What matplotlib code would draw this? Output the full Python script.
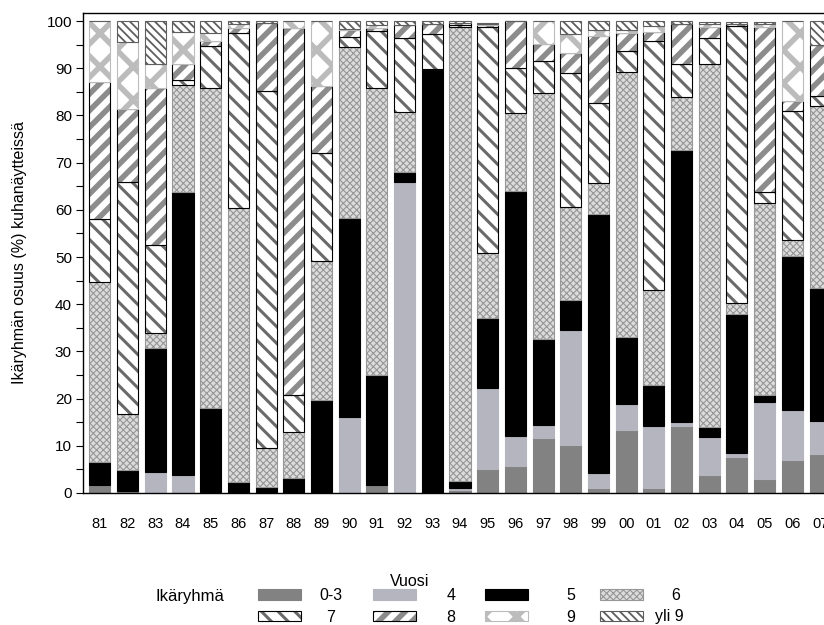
import matplotlib
matplotlib.use("Agg")
import matplotlib.pyplot as plt
from matplotlib.patches import Rectangle
import numpy as np

plt.rcParams['font.family'] = ['Liberation Sans', 'DejaVu Sans']
plt.rcParams['hatch.linewidth'] = 1.6

# vuodet ja ikäryhmien osuudet (%) kuvasta luettuna
vuodet = ['81', '82', '83', '84', '85', '86', '87', '88', '89', '90', '91', '92', '93',
          '94', '95', '96', '97', '98', '99', '00', '01', '02', '03', '04', '05', '06', '07']
ika_0_3 = [1.7, 0.5, 0.0, 0.3, 0.2, 0.0, 0.3, 0.0, 0.3, 0.0, 1.7, 0.0, 0.0,
           0.7, 5.0, 5.8, 11.7, 10.2, 1.0, 13.3, 1.1, 14.2, 3.8, 7.6, 3.0, 7.0, 8.2]
ika_4 = [0.0, 0.0, 4.5, 3.6, 0.0, 0.0, 0.0, 0.0, 0.0, 16.2, 0.0, 65.8, 0.0,
         0.3, 17.3, 6.3, 2.8, 24.3, 3.2, 5.5, 13.1, 0.8, 8.1, 0.8, 16.2, 10.6, 7.1]
ika_5 = [4.9, 4.4, 26.3, 59.8, 17.9, 2.4, 0.9, 3.2, 19.3, 42.0, 23.2, 2.3, 89.8,
         1.5, 14.7, 51.9, 18.1, 6.4, 54.9, 14.3, 8.7, 57.7, 2.0, 29.5, 1.6, 32.7, 28.1]
ika_6 = [38.2, 11.8, 3.2, 22.7, 67.8, 57.9, 8.4, 9.7, 29.6, 36.2, 61.0, 12.7, 0.0,
         96.3, 13.9, 16.6, 52.2, 19.6, 6.5, 56.0, 20.1, 11.3, 77.1, 2.3, 40.7, 3.4, 38.6]
ika_7 = [13.2, 49.1, 18.5, 1.0, 8.9, 37.2, 75.6, 7.9, 22.8, 2.3, 11.9, 15.7, 7.4,
         0.4, 47.9, 9.4, 6.7, 28.4, 17.0, 4.6, 52.8, 7.0, 5.5, 58.7, 2.3, 27.3, 2.1]
ika_8 = [29.1, 15.6, 33.4, 3.4, 1.0, 1.0, 14.3, 77.7, 14.2, 1.3, 0.8, 2.7, 2.2,
         0.3, 0.3, 10.0, 3.6, 4.4, 14.2, 3.8, 1.9, 8.4, 2.3, 0.5, 34.9, 2.1, 10.8]
ika_9 = [12.9, 14.1, 4.9, 6.9, 1.6, 0.8, 0.0, 1.5, 13.8, 0.3, 0.6, 0.0, 0.0,
         0.0, 0.2, 0.0, 4.9, 3.9, 1.2, 0.5, 1.2, 0.0, 0.5, 0.0, 0.6, 16.9, 0.0]
ika_yli9 = [0.0, 4.5, 9.2, 2.3, 2.6, 0.7, 0.5, 0.0, 0.0, 1.7, 0.8, 0.8, 0.6,
            0.5, 0.3, 0.0, 0.0, 2.8, 2.0, 2.0, 1.1, 0.6, 0.4, 0.4, 0.4, 0.0, 5.1]

ryhmat = ['0-3', '4', '5', '6', '7', '8', '9', 'yli 9']
sarjat = [ika_0_3, ika_4, ika_5, ika_6, ika_7, ika_8, ika_9, ika_yli9]

# tyylit: (täyttöväri, kuviointi, kuvioinnin väri, reunaviiva, kuvioviivan paksuus)
tyylit = [
    ('#828282', None, '#828282', '#828282', 1.0),
    ('#b5b5bf', None, '#b5b5bf', '#b5b5bf', 1.0),
    ('#000000', None, '#000000', '#000000', 1.0),
    ('#dcdcdc', 'xxxxx', '#979797', '#979797', 0.8),
    ('#ffffff', '\\\\', '#6a6a6a', '#000000', 2.2),
    ('#ffffff', '//', '#8c8c8c', '#000000', 4.0),
    ('#ffffff', 'x', '#bcbcbc', '#bcbcbc', 4.0),
    ('#ffffff', '\\\\\\\\', '#5e5e5e', '#5e5e5e', 1.3),
]


def kuviopaksuus(patch, lw):
    if hasattr(patch, 'set_hatch_linewidth'):
        patch.set_hatch_linewidth(lw)
    else:
        patch._hatch_linewidth = lw


fig = plt.figure(figsize=(8.24, 6.25), dpi=100)
W, H = 824, 625
ax = fig.add_axes([83 / W, 1 - 493 / H, 762 / W, 480 / H])

x = np.arange(len(vuodet))
leveys = 0.76
pohja = np.zeros(len(vuodet))
for arvot, (fc, hatch, hc, ec, hlw) in zip(sarjat, tyylit):
    arvot = np.array(arvot)
    palkit = ax.bar(x, arvot, leveys, bottom=pohja, color=fc, edgecolor=hc,
                    hatch=hatch, linewidth=0)
    for p in palkit:
        kuviopaksuus(p, hlw)
    ax.bar(x, arvot, leveys, bottom=pohja, fill=False, edgecolor=ec,
           linewidth=0.8)
    pohja = pohja + arvot

ax.set_xlim(-0.61, 26.9)
ax.set_ylim(0, 101.7)
ax.set_xticks(x)
ax.set_xticklabels(vuodet, fontsize=10.5)
ax.tick_params(axis='x', length=0, pad=17)
ax.set_yticks(np.arange(0, 101, 10))
ax.set_yticks(np.arange(5, 100, 10), minor=True)
ax.tick_params(axis='y', which='both', length=5, width=0.8, labelsize=11, pad=3)
for s in ax.spines.values():
    s.set_linewidth(1.0)

fig.text(20 / W, 1 - 253 / H, 'Ikäryhmän osuus (%) kuhanäytteissä', rotation=90,
         ha='center', va='center', fontsize=11.5)
fig.text(410 / W, 1 - 581 / H, 'Vuosi', ha='center', va='center', fontsize=11.5)

# selite
fig.text(190 / W, 1 - 596 / H, 'Ikäryhmä', ha='center', va='center', fontsize=12)
patch_x = [258, 373, 485, 600]
label_x = [331, 451, 571, 676]
for i, (nimi, (fc, hatch, hc, ec, hlw)) in enumerate(zip(ryhmat, tyylit)):
    rivi, sarake = divmod(i, 4)
    yc = 594 if rivi == 0 else 616
    h = 11 if rivi == 0 else 10
    px = patch_x[sarake]
    r = Rectangle((px / W, 1 - (yc + h / 2) / H), 43 / W, h / H,
                  transform=fig.transFigure, facecolor=fc, edgecolor=hc,
                  hatch=hatch, linewidth=0)
    kuviopaksuus(r, hlw)
    fig.add_artist(r)
    fig.add_artist(Rectangle((px / W, 1 - (yc + h / 2) / H), 43 / W, h / H,
                             transform=fig.transFigure, fill=False,
                             edgecolor=ec, linewidth=0.8))
    lx = label_x[sarake] if nimi != 'yli 9' else 669
    fig.text(lx / W, 1 - (yc + 1) / H, nimi, ha='center', va='center', fontsize=11.5)

fig.savefig('out.png', dpi=100)
